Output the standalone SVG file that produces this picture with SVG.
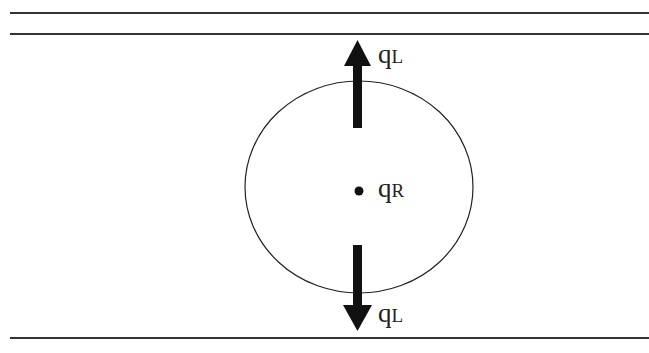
<svg xmlns="http://www.w3.org/2000/svg" width="649" height="353" viewBox="0 0 649 353">
<style>
.ln{stroke:#333;stroke-width:2;fill:none}
.t{font-family:"Liberation Serif",serif;fill:#222}
.q{font-size:27px}
.s{font-size:19px}
</style>
<rect width="649" height="353" fill="#fff"/>
<g id="walls">
<line class="ln" x1="10" y1="13" x2="649" y2="13"/>
<line class="ln" x1="10" y1="34" x2="649" y2="34"/>
<line class="ln" x1="10" y1="338" x2="649" y2="338"/>
</g>
<g id="circle">
<ellipse cx="359" cy="187" rx="114" ry="106" fill="none" stroke="#222" stroke-width="1.2"/>
</g>
<g id="connectors">
<rect x="353" y="62" width="9" height="66" fill="#111"/>
<polygon points="357.5,40 344,66 371,66" fill="#111"/>
<rect x="353" y="245" width="9" height="62" fill="#111"/>
<polygon points="357.5,331 343,305 372,305" fill="#111"/>
</g>
<g id="center">
<circle cx="359" cy="191" r="4.5" fill="#111"/>
<text class="t" x="378" y="197"><tspan class="q">q</tspan><tspan class="s">R</tspan></text>
</g>
<g id="labelTop">
<text class="t" x="378" y="63"><tspan class="q">q</tspan><tspan class="s">L</tspan></text>
</g>
<g id="labelBottom">
<text class="t" x="378" y="322"><tspan class="q">q</tspan><tspan class="s">L</tspan></text>
</g>
</svg>
